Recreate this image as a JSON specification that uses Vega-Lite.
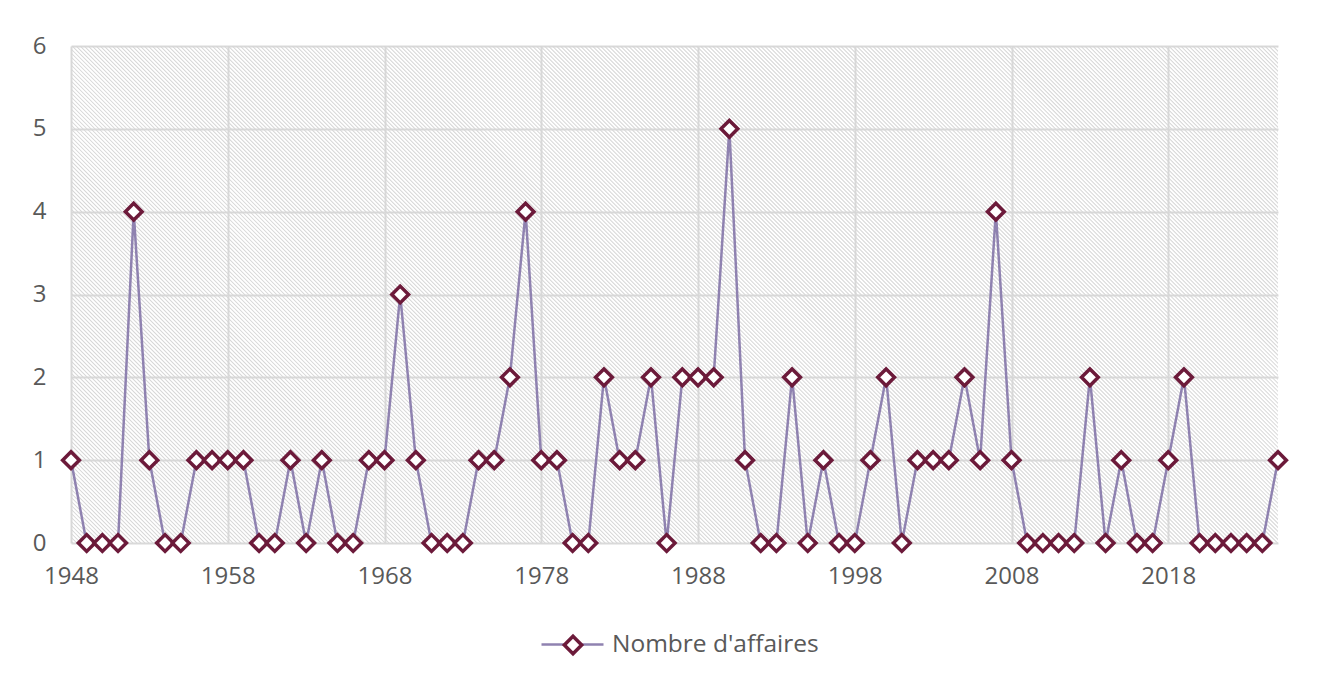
{
  "$schema": "https://vega.github.io/schema/vega-lite/v6.json",
  "width": 1207,
  "height": 497,
  "autosize": {"type": "none"},
  "padding": {"left": 71, "top": 46, "right": 51, "bottom": 141},
  "background": "white",
  "config": {
    "view": {"stroke": null},
    "font": "Open Sans",
    "axis": {
      "labelFont": "Open Sans",
      "labelFontSize": 24,
      "labelColor": "#595959",
      "gridColor": "#d9d9d9",
      "gridWidth": 2,
      "domain": false,
      "ticks": false,
      "labelFlush": false,
      "labelOverlap": false,
      "title": null
    }
  },
  "data": {
    "values": [
      {"annee": 1948, "affaires": 1}, {"annee": 1949, "affaires": 0}, {"annee": 1950, "affaires": 0},
      {"annee": 1951, "affaires": 0}, {"annee": 1952, "affaires": 4}, {"annee": 1953, "affaires": 1},
      {"annee": 1954, "affaires": 0}, {"annee": 1955, "affaires": 0}, {"annee": 1956, "affaires": 1},
      {"annee": 1957, "affaires": 1}, {"annee": 1958, "affaires": 1}, {"annee": 1959, "affaires": 1},
      {"annee": 1960, "affaires": 0}, {"annee": 1961, "affaires": 0}, {"annee": 1962, "affaires": 1},
      {"annee": 1963, "affaires": 0}, {"annee": 1964, "affaires": 1}, {"annee": 1965, "affaires": 0},
      {"annee": 1966, "affaires": 0}, {"annee": 1967, "affaires": 1}, {"annee": 1968, "affaires": 1},
      {"annee": 1969, "affaires": 3}, {"annee": 1970, "affaires": 1}, {"annee": 1971, "affaires": 0},
      {"annee": 1972, "affaires": 0}, {"annee": 1973, "affaires": 0}, {"annee": 1974, "affaires": 1},
      {"annee": 1975, "affaires": 1}, {"annee": 1976, "affaires": 2}, {"annee": 1977, "affaires": 4},
      {"annee": 1978, "affaires": 1}, {"annee": 1979, "affaires": 1}, {"annee": 1980, "affaires": 0},
      {"annee": 1981, "affaires": 0}, {"annee": 1982, "affaires": 2}, {"annee": 1983, "affaires": 1},
      {"annee": 1984, "affaires": 1}, {"annee": 1985, "affaires": 2}, {"annee": 1986, "affaires": 0},
      {"annee": 1987, "affaires": 2}, {"annee": 1988, "affaires": 2}, {"annee": 1989, "affaires": 2},
      {"annee": 1990, "affaires": 5}, {"annee": 1991, "affaires": 1}, {"annee": 1992, "affaires": 0},
      {"annee": 1993, "affaires": 0}, {"annee": 1994, "affaires": 2}, {"annee": 1995, "affaires": 0},
      {"annee": 1996, "affaires": 1}, {"annee": 1997, "affaires": 0}, {"annee": 1998, "affaires": 0},
      {"annee": 1999, "affaires": 1}, {"annee": 2000, "affaires": 2}, {"annee": 2001, "affaires": 0},
      {"annee": 2002, "affaires": 1}, {"annee": 2003, "affaires": 1}, {"annee": 2004, "affaires": 1},
      {"annee": 2005, "affaires": 2}, {"annee": 2006, "affaires": 1}, {"annee": 2007, "affaires": 4},
      {"annee": 2008, "affaires": 1}, {"annee": 2009, "affaires": 0}, {"annee": 2010, "affaires": 0},
      {"annee": 2011, "affaires": 0}, {"annee": 2012, "affaires": 0}, {"annee": 2013, "affaires": 2},
      {"annee": 2014, "affaires": 0}, {"annee": 2015, "affaires": 1}, {"annee": 2016, "affaires": 0},
      {"annee": 2017, "affaires": 0}, {"annee": 2018, "affaires": 1}, {"annee": 2019, "affaires": 2},
      {"annee": 2020, "affaires": 0}, {"annee": 2021, "affaires": 0}, {"annee": 2022, "affaires": 0},
      {"annee": 2023, "affaires": 0}, {"annee": 2024, "affaires": 0}, {"annee": 2025, "affaires": 1}
    ]
  },
  "layer": [
    {
      "description": "Diagonal hatching of the plot area: one wide dashed rule across the diagonal, clipped to the plot.",
      "data": {"values": [{}]},
      "mark": {"type": "rule", "clip": true, "stroke": "#d6d6d6", "strokeWidth": 1300, "strokeDash": [1, 1.83]},
      "encoding": {
        "x": {
          "datum": 1948, "type": "quantitative",
          "scale": {"domain": [1948, 2025], "nice": false, "zero": false},
          "axis": {"values": [1948, 1958, 1968, 1978, 1988, 1998, 2008, 2018], "format": "d", "labelPadding": 21, "grid": true}
        },
        "x2": {"datum": 2025},
        "y": {
          "datum": -4.286, "type": "quantitative",
          "scale": {"domain": [0, 6], "nice": false},
          "axis": {"values": [0, 1, 2, 3, 4, 5, 6], "labelPadding": 25, "grid": true}
        },
        "y2": {"datum": 10.286}
      }
    },
    {
      "mark": {"type": "line", "strokeWidth": 2.5},
      "encoding": {
        "x": {
          "field": "annee", "type": "quantitative",
          "scale": {"domain": [1948, 2025], "nice": false, "zero": false},
          "axis": {"values": [1948, 1958, 1968, 1978, 1988, 1998, 2008, 2018], "format": "d", "labelPadding": 21, "grid": true}
        },
        "y": {
          "field": "affaires", "type": "quantitative",
          "scale": {"domain": [0, 6], "nice": false},
          "axis": {"values": [0, 1, 2, 3, 4, 5, 6], "labelPadding": 25, "grid": true}
        },
        "color": {
          "datum": "Nombre d'affaires",
          "scale": {"range": ["#8f82b0"]},
          "legend": {
            "orient": "none", "legendX": 469, "legendY": 566, "title": null, "padding": 0,
            "symbolType": "M-1,0H1", "symbolSize": 3844, "symbolStrokeWidth": 2.5, "symbolOpacity": 1,
            "labelFont": "Open Sans", "labelFontSize": 24.5, "labelColor": "#595959", "labelOffset": 7, "labelLimit": 400
          }
        }
      }
    },
    {
      "mark": {"type": "point", "shape": "diamond", "filled": true, "fill": "white", "strokeWidth": 3.5, "size": 280, "opacity": 1},
      "encoding": {
        "x": {
          "field": "annee", "type": "quantitative",
          "scale": {"domain": [1948, 2025], "nice": false, "zero": false},
          "axis": {"values": [1948, 1958, 1968, 1978, 1988, 1998, 2008, 2018], "format": "d", "labelPadding": 21, "grid": true}
        },
        "y": {
          "field": "affaires", "type": "quantitative",
          "scale": {"domain": [0, 6], "nice": false},
          "axis": {"values": [0, 1, 2, 3, 4, 5, 6], "labelPadding": 25, "grid": true}
        },
        "stroke": {
          "datum": "marqueur",
          "scale": {"range": ["#6c1a3a"]},
          "legend": {
            "orient": "none", "legendX": 469, "legendY": 566, "title": null, "padding": 0,
            "symbolType": "M0,-0.28L0.28,0L0,0.28L-0.28,0Z", "symbolSize": 3844, "symbolStrokeWidth": 3.5,
            "symbolFillColor": "white", "symbolOpacity": 1, "labelExpr": "''", "labelFontSize": 24.5
          }
        }
      }
    }
  ]
}
